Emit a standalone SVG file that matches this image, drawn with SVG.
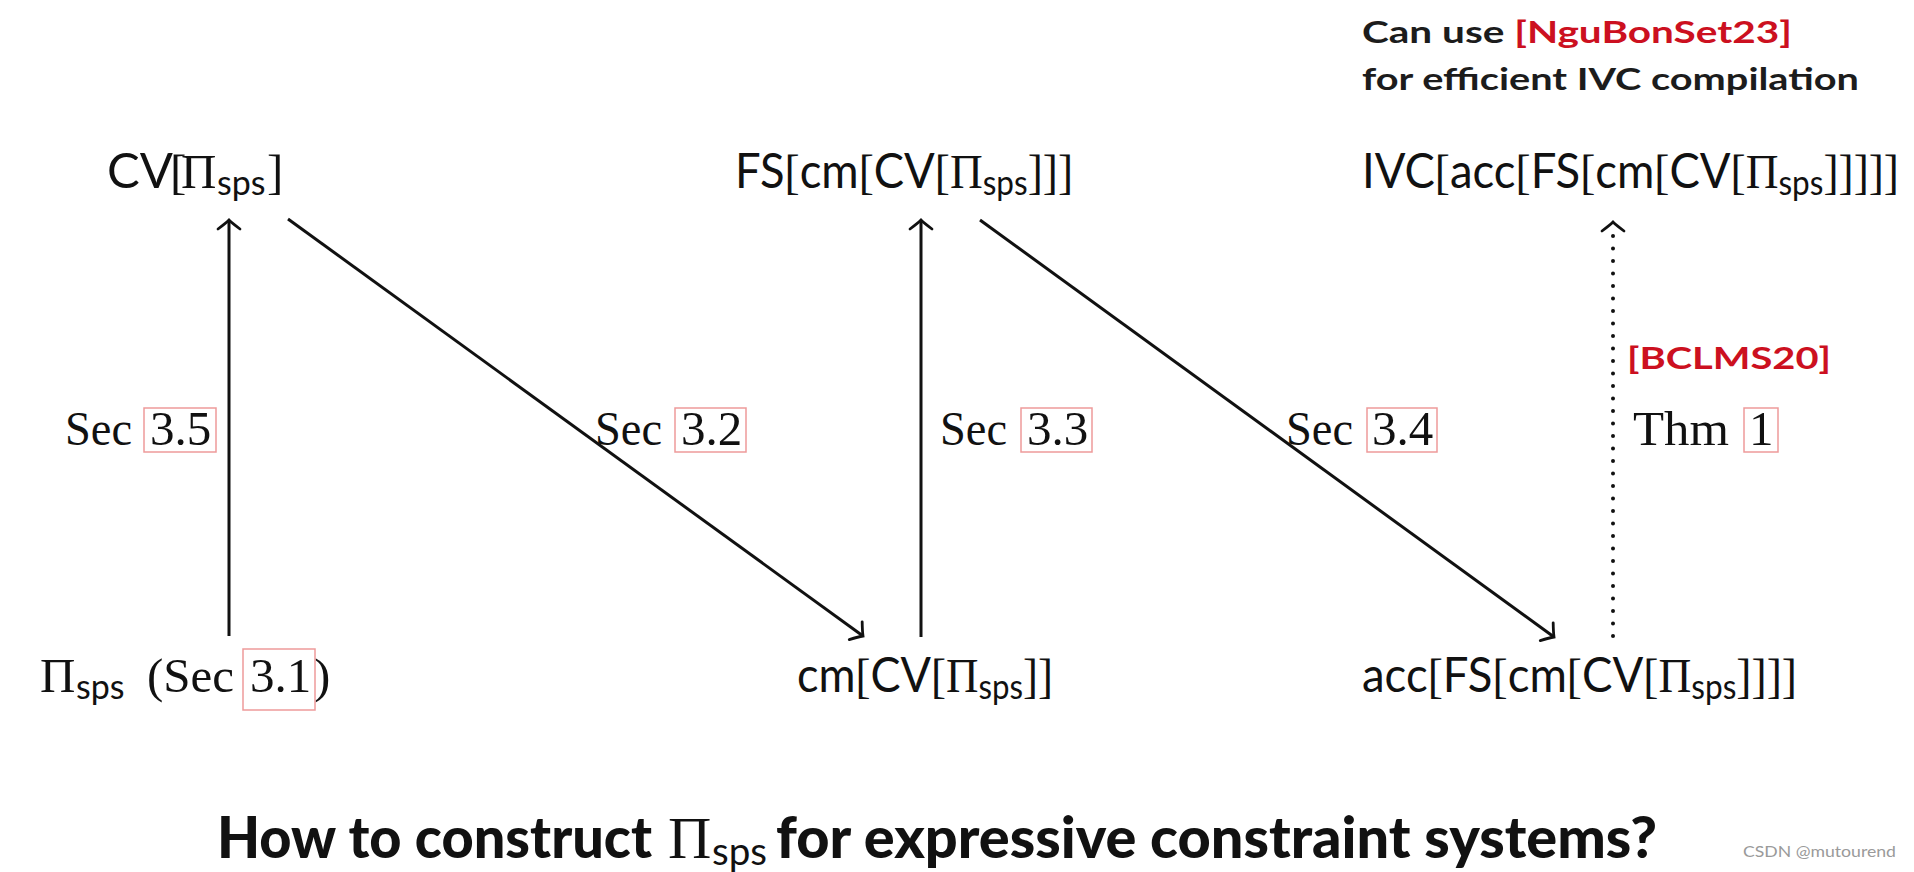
<svg xmlns="http://www.w3.org/2000/svg" width="1914" height="872" viewBox="0 0 1914 872">
<style>
.m{font-family:Lato,"Noto Sans","DejaVu Sans",sans-serif;font-size:49px;fill:#111}
.r{font-family:"Liberation Serif","DejaVu Serif",serif}
.s{font-size:34px}
.sec{font-family:"Liberation Serif","DejaVu Serif",serif;font-size:49px;fill:#111}
.box{fill:none;stroke:#ee9a9a;stroke-width:1.5}
.note{font-family:Lato,"Noto Sans",sans-serif;font-weight:700;font-size:30px;fill:#1c1c1c}
.red{fill:#cc1020}
.title{font-family:Lato,"Noto Sans",sans-serif;font-weight:900;font-size:58px;fill:#111}
.arr{stroke:#111;stroke-width:3;fill:none}
.dot{stroke:#111;stroke-width:4;stroke-linecap:round;stroke-dasharray:0 12.5;fill:none}
</style>
<defs>
<marker id="tip" markerUnits="userSpaceOnUse" viewBox="-14 -14 18 28" markerWidth="18" markerHeight="28" refX="0" refY="0" orient="auto" overflow="visible">
<path d="M-9,-11 Q-3,-3 0,0 Q-3,3 -9,11" fill="none" stroke="#111" stroke-width="2.8" stroke-linecap="round"/>
</marker>
</defs>
<rect width="1914" height="872" fill="#ffffff"/>

<g id="note-top">
<text class="note" x="1362" y="43" textLength="430" lengthAdjust="spacingAndGlyphs">Can use <tspan class="red">[NguBonSet23]</tspan></text>
<text class="note" x="1362" y="90" textLength="497" lengthAdjust="spacingAndGlyphs">for efficient IVC compilation</text>
</g>

<g id="node-cv">
<text class="m" x="107" y="188">CV<tspan class="r" x="170">[</tspan><tspan class="r" x="181">Π</tspan><tspan class="s" x="217" dy="7">sps</tspan><tspan class="r" x="267" dy="-7">]</tspan></text>
</g>

<g id="node-fs">
<text class="m" x="735" y="188" textLength="338" lengthAdjust="spacingAndGlyphs">FS<tspan class="r">[</tspan>cm<tspan class="r">[</tspan>CV<tspan class="r">[Π</tspan><tspan class="s" dy="7">sps</tspan><tspan class="r" dy="-7">]]]</tspan></text>
</g>

<g id="node-ivc">
<text class="m" x="1362" y="188" textLength="537" lengthAdjust="spacingAndGlyphs">IVC<tspan class="r">[</tspan>acc<tspan class="r">[</tspan>FS<tspan class="r">[</tspan>cm<tspan class="r">[</tspan>CV<tspan class="r">[Π</tspan><tspan class="s" dy="7">sps</tspan><tspan class="r" dy="-7">]]]]]</tspan></text>
</g>

<g id="node-pi">
<text class="m" x="40" y="692"><tspan class="r">Π</tspan><tspan class="s" x="76" dy="7">sps</tspan></text>
<text class="sec" x="147" y="692">(Sec <tspan x="250">3.1</tspan><tspan x="314">)</tspan></text>
<rect class="box" x="243" y="649" width="72" height="61"/>
</g>

<g id="node-cm">
<text class="m" x="797" y="692" textLength="256" lengthAdjust="spacingAndGlyphs">cm<tspan class="r">[</tspan>CV<tspan class="r">[Π</tspan><tspan class="s" dy="7">sps</tspan><tspan class="r" dy="-7">]]</tspan></text>
</g>

<g id="node-acc">
<text class="m" x="1362" y="692" textLength="435" lengthAdjust="spacingAndGlyphs">acc<tspan class="r">[</tspan>FS<tspan class="r">[</tspan>cm<tspan class="r">[</tspan>CV<tspan class="r">[Π</tspan><tspan class="s" dy="7">sps</tspan><tspan class="r" dy="-7">]]]]</tspan></text>
</g>

<g id="connectors">
<line class="arr" x1="229" y1="636" x2="229" y2="220" marker-end="url(#tip)"/>
<line class="arr" x1="288" y1="219" x2="863" y2="636" marker-end="url(#tip)"/>
<line class="arr" x1="921" y1="637" x2="921" y2="220" marker-end="url(#tip)"/>
<line class="arr" x1="980" y1="220" x2="1554" y2="637" marker-end="url(#tip)"/>
<line class="dot" x1="1613" y1="636" x2="1613" y2="232"/>
<line x1="1613" y1="232" x2="1613" y2="222" stroke="none" marker-end="url(#tip)"/>
</g>

<g id="labels">
<text class="sec" x="65" y="445" textLength="67" lengthAdjust="spacingAndGlyphs">Sec</text>
<text class="sec" x="150" y="445">3.5</text>
<rect class="box" x="144" y="408" width="72" height="44"/>
<text class="sec" x="595" y="445" textLength="67" lengthAdjust="spacingAndGlyphs">Sec</text>
<text class="sec" x="681" y="445">3.2</text>
<rect class="box" x="675" y="408" width="71" height="44"/>
<text class="sec" x="940" y="445" textLength="67" lengthAdjust="spacingAndGlyphs">Sec</text>
<text class="sec" x="1027" y="445">3.3</text>
<rect class="box" x="1021" y="408" width="71" height="44"/>
<text class="sec" x="1286" y="445" textLength="67" lengthAdjust="spacingAndGlyphs">Sec</text>
<text class="sec" x="1372" y="445">3.4</text>
<rect class="box" x="1367" y="408" width="70" height="44"/>
<text class="sec" x="1633" y="445" textLength="96" lengthAdjust="spacingAndGlyphs">Thm</text>
<text class="sec" x="1749" y="445">1</text>
<rect class="box" x="1744" y="408" width="34" height="44"/>
<text class="note red" x="1627" y="369" textLength="204" lengthAdjust="spacingAndGlyphs">[BCLMS20]</text>
</g>

<g id="title">
<text class="title" x="217" y="858" textLength="435" lengthAdjust="spacingAndGlyphs">How to construct</text>
<text x="668" y="858" font-family="'Liberation Serif','DejaVu Serif',serif" font-size="60" fill="#111">Π</text>
<text x="712" y="865" font-family="Lato,'Noto Sans',sans-serif" font-size="38" fill="#111" textLength="55" lengthAdjust="spacingAndGlyphs">sps</text>
<text class="title" x="776" y="858" textLength="881" lengthAdjust="spacingAndGlyphs">for expressive constraint systems?</text>
</g>

<text x="1743" y="857" font-family="Lato,'Noto Sans',sans-serif" font-size="15" fill="#9a9a9a" textLength="153" lengthAdjust="spacingAndGlyphs">CSDN @mutourend</text>
</svg>
